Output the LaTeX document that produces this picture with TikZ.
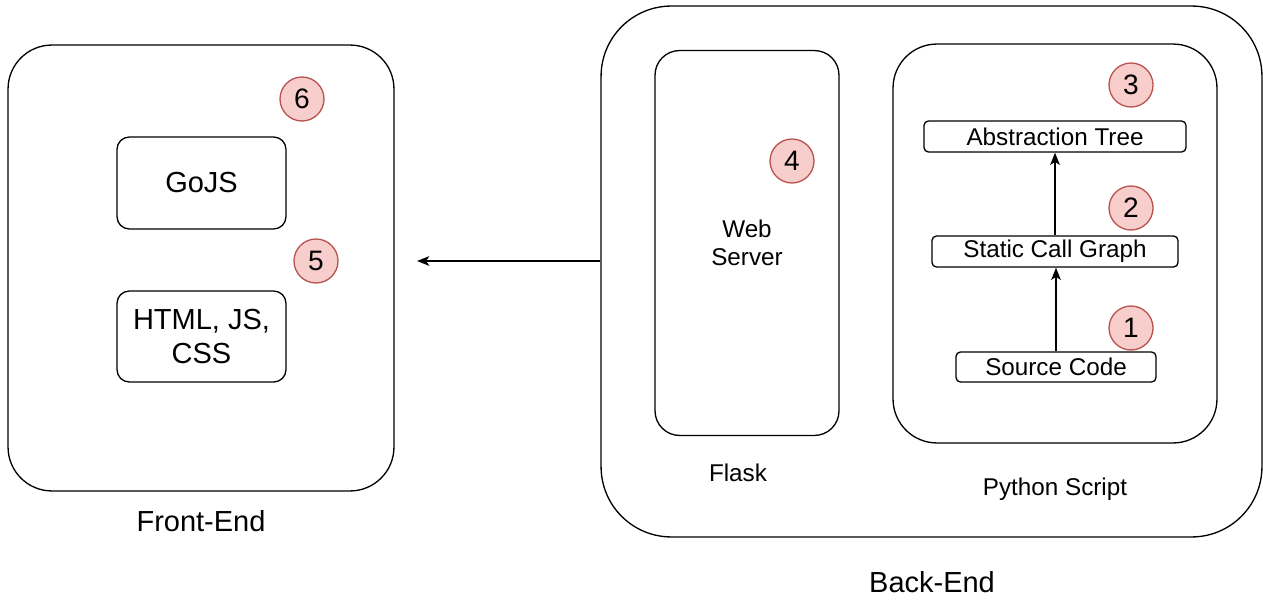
\documentclass[tikz,border=0pt]{standalone}
\usepackage{fontspec}
\setmainfont{Liberation Sans}
\usetikzlibrary{arrows.meta}
\definecolor{badgefill}{HTML}{F8CECC}
\definecolor{badgeline}{HTML}{B85450}
\begin{document}
\begin{tikzpicture}[x=0.02cm, y=-0.02cm, line width=0.75pt,
	box/.style = {draw, rounded corners=#1, inner sep=0pt, align=center},
	box/.default = 7pt,
	badge/.style = {circle, draw=badgeline, fill=badgefill, minimum size=0.88cm, inner sep=0pt, font=\fontsize{16}{18}\selectfont},
	small/.style = {font=\fontsize{13.8}{16}\selectfont},
	big/.style = {font=\fontsize{16.5}{19}\selectfont},
	arrow/.style = {-{Stealth[length=7pt, width=5.5pt, inset=1.8pt]}}]
				\useasboundingbox (0,0) rectangle (1263,601);
				
				% outer boxes
				\node[box=25pt, minimum width=7.72cm, minimum height=8.92cm](front) at (201,268) {};
				\node[box=40pt, minimum width=13.22cm, minimum height=10.62cm](back) at (931.5,271.5) {};
				\node[box=14pt, small, minimum width=3.68cm, minimum height=7.7cm](flask) at (747,243) {Web\\Server};
				\node[box=25pt, minimum width=6.48cm, minimum height=7.98cm](python) at (1055,243.5) {};
				
				% front-end parts
				\node[box, big, minimum width=3.38cm, minimum height=1.84cm](gojs) at (201.5,183) {GoJS};
				\node[box, big, minimum width=3.38cm, minimum height=1.82cm](html) at (201.5,336.5) {HTML, JS,\\CSS};
				
				% python script parts
				\node[box=2.5pt, small, minimum width=5.24cm, minimum height=0.62cm](tree) at (1055,136.5) {Abstraction Tree};
				\node[box=2.5pt, small, minimum width=4.92cm, minimum height=0.62cm](graph) at (1055,251.5) {Static Call Graph};
				\node[box=2.5pt, small, minimum width=4cm, minimum height=0.6cm](source) at (1056,367) {Source Code};
				
				% numbered badges
				\node[badge](b1) at (1131,328) {1};
				\node[badge](b2) at (1131,208) {2};
				\node[badge](b3) at (1131,85) {3};
				\node[badge](b4) at (792,161) {4};
				\node[badge](b5) at (316,261) {5};
				\node[badge](b6) at (302,99) {6};
				
				% captions
				\node[big](frontlabel) at (201,521) {Front-End};
				\node[big](backlabel) at (932,582) {Back-End};
				\node[small](flasklabel) at (738,473) {Flask};
				\node[small](pythonlabel) at (1055,489) {Python Script};
				
				\coordinate[](arrowend) at (417,261);
				
				\draw[arrow] (source.north) -- (source.north |- graph.south);
				\draw[arrow] (graph.north) -- (graph.north |- tree.south);
				\draw[arrow] (back.west |- arrowend) -- (arrowend);
\end{tikzpicture}
\end{document}
